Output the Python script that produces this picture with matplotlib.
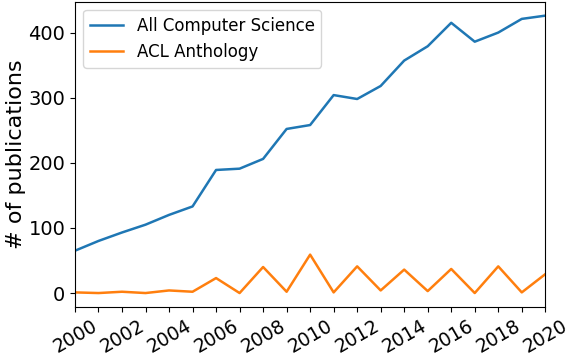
import matplotlib
matplotlib.use("Agg")
import matplotlib.pyplot as plt
from matplotlib.ticker import MultipleLocator

years = list(range(2000, 2021))
all_cs = [65, 80, 93, 105, 120, 133, 189, 191, 206, 252, 258,
          304, 298, 318, 357, 379, 415, 386, 400, 421, 426]
acl = [1, 0, 2, 0, 4, 2, 23, 0, 40, 2, 59,
       1, 41, 4, 36, 3, 37, 0, 41, 1, 29]

plt.rcParams['font.size'] = 14

fig, ax = plt.subplots(figsize=(5.68, 3.54), dpi=100)
ax.plot(years, all_cs, label='All Computer Science', lw=1.8)
ax.plot(years, acl, label='ACL Anthology', lw=1.8)

ax.set_xlim(2000, 2020)
ax.xaxis.set_major_locator(MultipleLocator(2))
ax.xaxis.set_minor_locator(MultipleLocator(1))
ax.tick_params(axis='x', which='minor', length=3.5, width=0.8)
ax.tick_params(axis='x', which='major', labelsize=13.5, pad=3.5)
ax.tick_params(axis='y', labelsize=14)
ax.set_yticks([0, 100, 200, 300, 400])
plt.setp(ax.get_xticklabels(), rotation=30)
ax.set_ylabel('# of publications', fontsize=16)
ax.yaxis.set_label_coords(-0.105, 0.5)
ax.legend(loc='upper left', fontsize=12)

fig.subplots_adjust(left=0.132, right=0.96, top=0.995, bottom=0.133)
fig.savefig('out.png')
